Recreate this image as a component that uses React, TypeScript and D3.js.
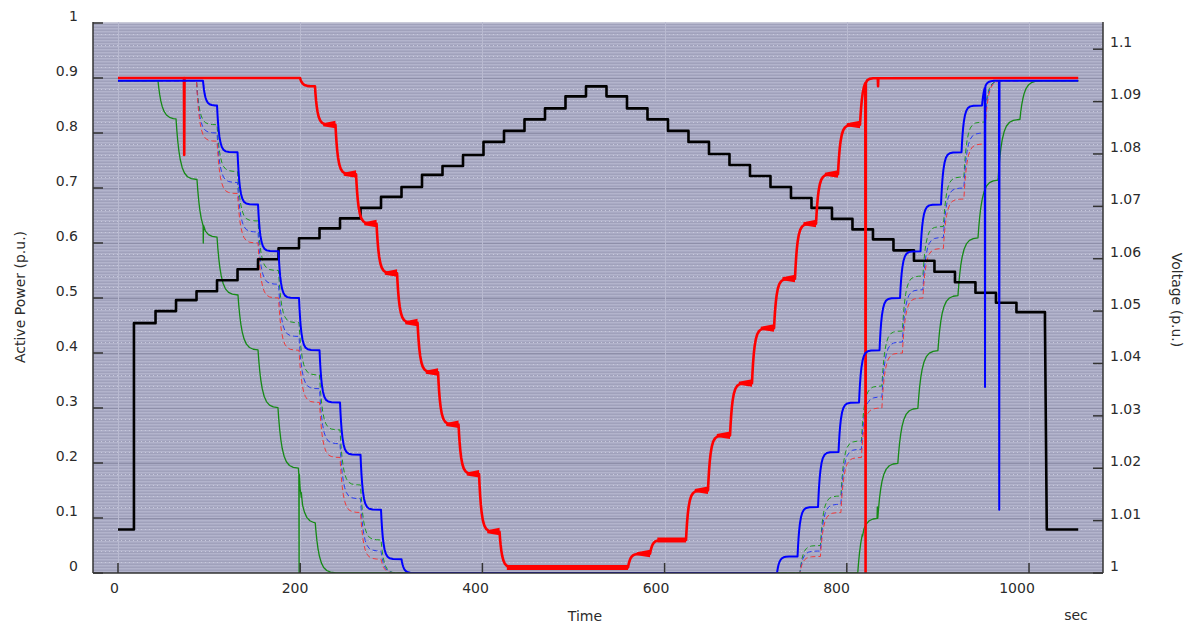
import React from "react";
import * as d3 from "d3";

const W = 1191;
const H = 626;
const PL = 93, PR = 1103, PT = 22, PB = 573;

// axis ticks
const timeTicks = [0, 200, 400, 600, 800, 1000];
const powerTicks = [0, 0.1, 0.2, 0.3, 0.4, 0.5, 0.6, 0.7, 0.8, 0.9, 1];
const voltTicks = [1, 1.01, 1.02, 1.03, 1.04, 1.05, 1.06, 1.07, 1.08, 1.09, 1.1];

const T_END = 1054;

// Voltage at the point of connection (right axis)
const voltTimes = [0, 11, 17.5, 41.2, 63.7, 86.2, 108.7, 131.2, 153.7, 176.2, 198.7, 221.2, 243.7, 266.2, 288.7, 311.2, 333.7, 356.2, 378.7, 401.2, 423.7, 446.2, 468.7, 491.2, 513.7,
  536.2, 558.7, 581.2, 603.7, 626.2, 648.7, 671.2, 693.7, 716.2, 738.7, 761.2, 783.7, 806.2, 828.7, 851.2, 873.7, 896.2, 918.7, 941.2, 963.7, 986.2, 1017.5, 1019.5];
const voltLevels = [1.0083, 1.0083, 1.0477, 1.0500, 1.0521, 1.0538, 1.0559, 1.0580, 1.0599, 1.0620, 1.0639, 1.0658, 1.0677, 1.0697, 1.0718, 1.0737, 1.0760, 1.0777, 1.0798, 1.0823, 1.0844, 1.0866, 1.0887, 1.0910, 1.0929,
  1.0910, 1.0887, 1.0866, 1.0844, 1.0823, 1.0800, 1.0779, 1.0758, 1.0737, 1.0716, 1.0697, 1.0676, 1.0656, 1.0637, 1.0616, 1.0596, 1.0575, 1.0555, 1.0535, 1.0516, 1.0498, 1.0477, 1.0083];

// Active power of the units (left axis): step times and settled levels
const redTimes = [199.8, 216.2, 238.7, 261.3, 283.8, 306.3, 328.8, 351.3, 373.8, 396.3, 418.8,
  559.8, 584, 623.5, 647.6, 671.8, 695.9, 720.1, 743.1, 766.2, 790.3, 814.5];
const redLevels = [0.885, 0.815, 0.725, 0.635, 0.545, 0.455, 0.365, 0.27, 0.18, 0.075, 0.01,
  0.035, 0.06, 0.15, 0.25, 0.345, 0.445, 0.535, 0.635, 0.725, 0.815, 0.9];
const redSpikes = [[72.4, 0.76], [820.3, 0.0], [834, 0.885]];

const blueTimes = [93.3, 108.7, 131.2, 153.7, 176.2, 198.7, 221.2, 243.7, 266.2, 288.7, 311.2,
  723.4, 745.9, 768.4, 790.9, 813.4, 835.9, 858.4, 880.9, 903.4, 925.9, 948.4];
const blueLevels = [0.85, 0.765, 0.67, 0.585, 0.5, 0.405, 0.31, 0.215, 0.115, 0.025, 0,
  0.03, 0.12, 0.22, 0.31, 0.405, 0.5, 0.585, 0.67, 0.765, 0.85, 0.895];
const blueSpikes = [[951.4, 0.338], [967, 0.115]];

const greenTimes = [43.9, 63.7, 86.7, 108.7, 131.7, 153.7, 175.6, 198, 216.5,
  812, 834, 856, 878, 900, 922, 944, 966, 990];
const greenLevels = [0.825, 0.715, 0.61, 0.505, 0.405, 0.3, 0.19, 0.09, 0,
  0.1, 0.2, 0.3, 0.405, 0.505, 0.61, 0.715, 0.825, 0.895];
const greenSpikes = [[93.3, 0.6], [198.5, 0.0], [201, 0.146], [816.7, 0.07], [833.2, 0.12]];

const dashTimes = [86.2, 108.7, 131.2, 153.7, 176.2, 198.7, 221.2, 243.7, 266.2, 288.7,
  748.5, 771, 793.5, 816, 838.5, 861, 883.5, 906, 928.5, 951];
const dashGreenLevels = [0.815, 0.73, 0.64, 0.55, 0.455, 0.36, 0.26, 0.16, 0.06, 0,
  0.05, 0.14, 0.24, 0.34, 0.44, 0.54, 0.63, 0.72, 0.82, 0.895];
const dashBlueLevels = [0.8, 0.71, 0.62, 0.525, 0.43, 0.335, 0.235, 0.135, 0.04, 0,
  0.04, 0.125, 0.225, 0.32, 0.42, 0.515, 0.61, 0.7, 0.8, 0.895];
const dashRedLevels = [0.785, 0.69, 0.6, 0.5, 0.405, 0.31, 0.21, 0.11, 0.025, 0,
  0.03, 0.11, 0.21, 0.3, 0.4, 0.5, 0.59, 0.68, 0.78, 0.895];

// sample offsets (in time constants) used to trace each settling transient
const SETTLE = [0, 0.2, 0.45, 0.75, 1.1, 1.6, 2.2, 3, 4, 5.5];

type Pt = [number, number];

function settleSeries(init: number, times: number[], levels: number[], tau: number, spikes: number[][] = []): Pt[] {
  const pts: Pt[] = [[0, init]];
  let cur = init;
  for (let i = 0; i < times.length; i++) {
    const ts = times[i];
    const target = levels[i];
    const next = i + 1 < times.length ? times[i + 1] : T_END;
    pts.push([ts, cur]);
    for (const f of SETTLE.slice(1)) {
      const tt = ts + f * tau;
      if (tt >= next) break;
      pts.push([tt, target + (cur - target) * Math.exp(-f)]);
    }
    cur = target + (cur - target) * Math.exp(-(next - ts) / tau);
    pts.push([next, cur]);
  }
  // vertical excursions
  const valueAt = (t: number) => {
    for (let i = 1; i < pts.length; i++) {
      if (pts[i][0] >= t) {
        const [t0, v0] = pts[i - 1];
        const [t1, v1] = pts[i];
        return t1 === t0 ? v1 : v0 + ((v1 - v0) * (t - t0)) / (t1 - t0);
      }
    }
    return pts[pts.length - 1][1];
  };
  const extra: Pt[] = [];
  for (const [t, v] of spikes) {
    const b = valueAt(t);
    extra.push([t - 0.01, b], [t + 0.3, v], [t + 0.6, b]);
  }
  return [...pts, ...extra].sort((a, b) => a[0] - b[0]);
}

function stepSeries(times: number[], levels: number[]): Pt[] {
  const pts: Pt[] = [];
  for (let i = 0; i < times.length; i++) {
    if (i > 0 && times[i] - times[i - 1] > 3) pts.push([times[i], levels[i - 1]]);
    pts.push([times[i], levels[i]]);
  }
  pts.push([T_END, levels[levels.length - 1]]);
  return pts;
}

export default function App() {
  const x = d3.scaleLinear().domain([-27.44, 1081.2]).range([PL, PR]);
  const yP = d3.scaleLinear().domain([0, 1]).range([PB, PT + 1]);
  const yV = d3.scaleLinear().domain([1, 1.105]).range([PB, PT + 1]);

  const lineP = d3.line<Pt>().x((d) => x(d[0])).y((d) => yP(d[1]));
  const lineV = d3.line<Pt>().x((d) => x(d[0])).y((d) => yV(d[1]));

  const red = settleSeries(0.9, redTimes, redLevels, 2.6, redSpikes);
  const blue = settleSeries(0.895, blueTimes, blueLevels, 2.4, blueSpikes);
  const green = settleSeries(0.895, greenTimes, greenLevels, 4.2, greenSpikes);
  const dG = settleSeries(0.895, dashTimes, dashGreenLevels, 3.2);
  const dB = settleSeries(0.895, dashTimes, dashBlueLevels, 3.2);
  const dR = settleSeries(0.895, dashTimes, dashRedLevels, 3.2);
  const volt = stepSeries(voltTimes, voltLevels);

  // the red unit rings while it holds each reduced level: the trace widens toward the end of a plateau
  const redBands = redTimes
    .map((ts, i) => {
      const lv = redLevels[i];
      if (lv > 0.88) return null;
      const next = i + 1 < redTimes.length ? redTimes[i + 1] : T_END;
      const long = next - ts > 30;
      const ta = long ? ts + 8 : ts + (next - ts) * 0.4;
      const y0 = yP(lv);
      const x0 = x(ta), x1 = x(next);
      const [a0, a1, b1, b0] = long ? [-2.5, -2.5, 2.5, 2.5] : [-1.5, -4, 3.5, 1.5];
      return `M${x0},${y0 + a0}L${x1},${y0 + a1}L${x1},${y0 + b1}L${x0},${y0 + b0}Z`;
    })
    .filter(Boolean) as string[];

  const minor = d3.range(0.02, 1, 0.02).filter((v) => Math.abs(v * 10 - Math.round(v * 10)) > 0.01);
  const font = "'DejaVu Sans', Verdana, sans-serif";
  const txt = "#2b2b2b";

  return (
    <svg width={W} height={H} style={{ position: "absolute", left: 0, top: 0, background: "#fff" }}>
      <defs>
        <pattern id="bgStripes" width="4" height="3" patternUnits="userSpaceOnUse" y={PT}>
          <rect width="4" height="3" fill="#a9aac4" />
          <rect width="4" height="1" y="0" fill="#b3b4cc" />
          <rect width="4" height="1" y="2" fill="#a0a1bb" />
        </pattern>
        <clipPath id="plotClip">
          <rect x={PL} y={PT} width={PR - PL} height={PB - PT} />
        </clipPath>
      </defs>
      <rect x={PL} y={PT} width={PR - PL} height={PB - PT} fill="url(#bgStripes)" />
      <rect x={PL} y={PT} width={PR - PL} height="1.5" fill="#c9cad8" />
      {minor.map((v) => (
        <line key={"m" + v} x1={PL} x2={PR} y1={Math.round(yP(v)) + 0.5} y2={Math.round(yP(v)) + 0.5}
          stroke="#c8c9dc" strokeWidth={1} strokeDasharray="1,3" />
      ))}
      {powerTicks.slice(1, -1).map((v) => (
        <line key={"g" + v} x1={PL} x2={PR} y1={Math.round(yP(v)) + 0.5} y2={Math.round(yP(v)) + 0.5}
          stroke="#8e8fa9" strokeWidth={1} />
      ))}
      {timeTicks.map((t) => (
        <line key={"vg" + t} x1={Math.round(x(t)) + 0.5} x2={Math.round(x(t)) + 0.5} y1={PT} y2={PB}
          stroke="#b9bad0" strokeWidth={1} />
      ))}

      <g clipPath="url(#plotClip)" fill="none" strokeLinejoin="round">
        <path d={lineP(dG) || ""} stroke="#1f9a1f" strokeWidth={1} strokeDasharray="5,3" />
        <path d={lineP(dB) || ""} stroke="#2a3cf0" strokeWidth={1} strokeDasharray="5,3" />
        <path d={lineP(dR) || ""} stroke="#f03a3a" strokeWidth={1} strokeDasharray="5,3" />
        <path d={lineP(green) || ""} stroke="#168a16" strokeWidth={1.3} />
        <path d={lineV(volt) || ""} stroke="#000" strokeWidth={2.6} />
        <path d={lineP(red) || ""} stroke="#ff0000" strokeWidth={2.6} />
        {redBands.map((d, i) => (
          <path key={"rb" + i} d={d} fill="#ff0000" stroke="none" />
        ))}
        <path d={lineP(blue) || ""} stroke="#0000ff" strokeWidth={2} />
      </g>

      {/* axes */}
      <g stroke="#333" strokeWidth={1.5}>
        <line x1={PL} x2={PL} y1={PT} y2={PB} />
        <line x1={PR} x2={PR} y1={PT} y2={PB} />
        <line x1={PL} x2={PR} y1={PB} y2={PB} />
        {powerTicks.map((v) => (
          <line key={"pt" + v} x1={PL} x2={PL + 10} y1={yP(v)} y2={yP(v)} />
        ))}
        {voltTicks.map((v) => (
          <line key={"vt" + v} x1={PR - 10} x2={PR} y1={yV(v)} y2={yV(v)} />
        ))}
        {timeTicks.map((t) => (
          <line key={"tt" + t} x1={x(t)} x2={x(t)} y1={PB} y2={PB - 10} />
        ))}
      </g>

      <g fontFamily={font} fontSize={14} fill={txt}>
        {powerTicks.map((v) => (
          <text key={"pl" + v} x={78} y={yP(v) - 7} dy="0.35em" textAnchor="end">{d3.format("~g")(v)}</text>
        ))}
        {voltTicks.map((v) => (
          <text key={"vl" + v} x={1110} y={yV(v) - 7} dy="0.35em" textAnchor="start">{d3.format("~g")(v)}</text>
        ))}
        {timeTicks.map((t) => (
          <text key={"tl" + t} x={x(t) - 3.5 - 0.0085 * t} y={593} textAnchor="middle">{t}</text>
        ))}
        <text x={585} y={621} textAnchor="middle">Time</text>
        <text x={1076} y={620} textAnchor="middle">sec</text>
        <text transform={`translate(25,${297}) rotate(-90)`} textAnchor="middle">Active Power (p.u.)</text>
        <text transform={`translate(1172,${300}) rotate(90)`} textAnchor="middle">Voltage (p.u.)</text>
      </g>
    </svg>
  );
}
